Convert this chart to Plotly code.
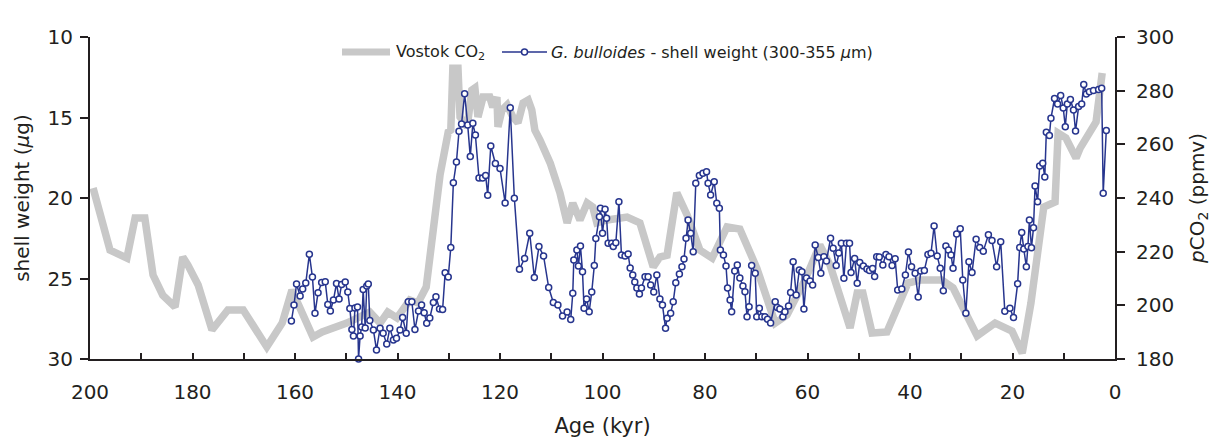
import plotly.graph_objects as go

# ---------------- data ----------------
# Vostok CO2 record (age in kyr BP, pCO2 in ppmv)
vostok_age = [199.4, 196.1, 192.8, 191.2, 189.3, 187.7, 185.8, 183.4, 181.9, 180.9,
              178.9, 176.2, 173.1, 170.1, 165.5, 162.5, 160.6, 156.5, 154.7, 149.9,
              145.4, 143.4, 141.9, 140.1, 137.6, 136.0, 134.4, 133.3, 131.7, 130.1,
              129.6, 129.2, 128.2, 127.8, 126.4, 125.5, 124.9, 124.3, 123.3, 122.0,
              121.4, 120.6, 120.4, 119.6, 118.6, 117.5, 116.5, 115.5, 114.5, 113.8,
              113.2, 112.2, 110.2, 108.3, 106.9, 105.8, 104.4, 103.0, 101.9, 101.1,
              99.1, 95.2, 92.7, 90.1, 88.8, 87.4, 85.5, 83.5, 81.0, 78.6,
              75.7, 73.2, 69.9, 66.3, 64.0, 60.5, 57.6, 55.6, 53.7, 51.7,
              50.3, 49.2, 47.4, 44.5, 40.4, 38.0, 33.8, 31.6, 26.9, 23.4,
              20.1, 18.1, 16.4, 13.9, 11.7, 11.1, 9.6, 7.6, 6.8, 3.7,
              2.5]
vostok_co2 = [243.7, 220.6, 217.6, 232.5, 232.5, 211.3, 203.8, 199.4, 218.0, 215.0,
              207.6, 190.8, 198.3, 198.3, 184.5, 193.4, 205.7, 188.2, 190.1, 193.4,
              197.5, 193.4, 197.5, 195.3, 202.0, 200.9, 206.8, 224.3, 248.6, 264.6,
              265.3, 288.4, 288.4, 270.2, 266.5, 280.2, 281.0, 270.2, 277.6, 277.6,
              273.9, 277.6, 266.5, 272.8, 274.7, 270.2, 268.0, 275.4, 276.5, 272.8,
              265.3, 261.6, 253.0, 241.9, 230.7, 238.1, 231.8, 238.1, 236.6, 230.7,
              231.8, 232.9, 230.7, 214.3, 218.0, 218.7, 241.9, 233.7, 220.6, 217.6,
              229.2, 228.4, 213.9, 193.4, 196.4, 209.4, 222.5, 215.0, 204.6, 191.6,
              204.6, 204.6, 189.7, 190.1, 208.3, 209.4, 209.4, 206.5, 188.6, 193.4,
              190.4, 182.2, 200.9, 236.6, 238.5, 264.2, 262.4, 254.9, 258.6, 268.3,
              286.6]

# G. bulloides shell weight (age in kyr BP, weight in micrograms)
shell_age = [160.7, 160.2, 159.7, 159.0, 158.5, 157.9, 157.2, 156.6, 156.1, 155.5,
             154.8, 154.1, 153.6, 153.1, 152.5, 151.9, 151.4, 150.9, 150.2, 149.7,
             149.3, 148.9, 148.6, 148.3, 147.8, 147.6, 147.3, 147.0, 146.7, 146.3,
             146.0, 145.7, 145.4, 144.7, 144.1, 143.4, 142.8, 142.1, 141.5, 140.8,
             140.2, 139.5, 139.0, 138.3, 137.9, 137.2, 136.6, 135.9, 135.3, 134.8,
             134.3, 133.7, 133.0, 132.5, 131.8, 131.2, 130.7, 130.1, 129.6, 129.1,
             128.5, 128.0, 127.5, 126.9, 126.3, 125.8, 125.3, 124.8, 124.1, 123.4,
             122.8, 122.4, 121.8, 120.9, 120.0, 119.0, 118.0, 117.2, 116.2, 115.2,
             114.2, 113.3, 112.4, 111.5, 110.5, 109.6, 108.7, 107.8, 106.9, 106.2,
             105.8, 105.6, 105.0, 104.7, 104.3, 103.9, 103.6, 103.1, 102.6, 102.1,
             101.6, 101.3, 100.6, 100.4, 100.0, 99.5, 99.2, 98.9, 98.2, 97.9,
             97.4, 96.8, 96.3, 95.6, 95.0, 94.6, 94.1, 93.7, 93.3, 92.8,
             92.4, 91.7, 91.1, 90.6, 90.0, 89.4, 88.8, 88.3, 87.7, 87.4,
             86.7, 86.2, 85.7, 85.0, 84.5, 84.1, 83.7, 83.3, 82.8, 82.3,
             81.8, 81.1, 80.4, 79.7, 79.4, 78.9, 78.2, 77.7, 77.2, 77.0,
             76.4, 75.9, 75.6, 75.1, 74.8, 74.2, 73.7, 73.2, 72.6, 72.2,
             71.8, 71.4, 70.9, 70.2, 69.9, 69.4, 68.9, 68.3, 67.8, 67.2,
             66.3, 65.9, 65.4, 64.8, 64.4, 63.7, 63.3, 62.8, 62.2, 61.6,
             61.1, 60.7, 60.2, 59.5, 59.0, 58.5, 57.9, 57.4, 56.8, 56.3,
             55.5, 55.0, 54.4, 53.9, 53.4, 52.9, 52.4, 51.8, 51.5, 50.8,
             50.3, 49.8, 49.1, 48.4, 47.9, 47.3, 46.9, 46.5, 46.0, 45.3,
             44.7, 44.1, 43.5, 42.9, 42.4, 41.6, 40.9, 40.3, 39.7, 39.0,
             38.4, 37.9, 37.2, 36.5, 35.9, 35.3, 34.7, 34.1, 33.5, 33.0,
             32.5, 32.0, 31.6, 30.9, 30.2, 29.7, 29.1, 28.5, 27.9, 27.1,
             26.4, 25.7, 24.7, 24.0, 23.1, 22.3, 21.5, 20.5, 19.8, 19.0,
             18.6, 18.2, 17.8, 17.3, 17.0, 16.7, 16.3, 15.9, 15.6, 15.1,
             14.7, 14.1, 13.7, 13.4, 12.8, 12.5, 11.8, 11.2, 10.6, 10.1,
             9.7, 9.3, 8.7, 8.1, 7.7, 7.1, 6.5, 6.1, 5.6, 5.0,
             4.2, 3.2, 2.6, 2.3, 1.7]
shell_weight = [27.64, 26.65, 25.34, 26.09, 25.65, 25.28, 23.50, 24.91, 27.16, 25.88,
                25.25, 25.20, 26.61, 27.02, 26.34, 25.31, 26.27, 25.37, 25.22, 25.84,
                26.86, 28.17, 28.57, 26.83, 26.77, 30.00, 28.57, 28.01, 25.68, 28.07,
                25.47, 25.34, 27.61, 28.20, 29.44, 28.09, 28.40, 29.07, 28.09, 28.82,
                28.71, 28.20, 27.42, 28.40, 26.44, 26.44, 28.17, 27.02, 26.65, 27.12,
                27.78, 27.45, 26.49, 26.13, 26.89, 26.93, 24.64, 24.91, 23.07, 19.05,
                17.76, 15.85, 15.40, 13.53, 15.47, 17.43, 15.36, 16.09, 18.76, 18.76,
                18.60, 19.83, 16.77, 17.86, 18.16, 20.31, 14.39, 20.01, 24.43, 23.75,
                22.19, 24.94, 23.02, 23.60, 25.56, 26.49, 26.65, 27.33, 27.08, 27.55,
                25.92, 23.85, 23.23, 24.22, 22.98, 24.58, 26.85, 26.27, 27.06, 25.84,
                24.20, 22.52, 21.16, 20.64, 22.19, 20.70, 21.26, 22.81, 22.81, 23.02,
                22.78, 20.23, 23.54, 23.60, 23.48, 24.35, 24.78, 25.22, 25.59, 25.96,
                25.59, 24.89, 24.89, 25.40, 25.84, 24.78, 26.27, 26.65, 28.09, 27.47,
                27.16, 26.44, 25.26, 24.72, 24.27, 23.79, 22.50, 21.37, 22.19, 23.34,
                19.09, 18.60, 18.47, 18.37, 19.09, 19.81, 18.99, 20.33, 20.64, 23.23,
                23.54, 24.22, 25.59, 26.34, 27.06, 24.53, 24.16, 24.97, 25.47, 25.82,
                27.37, 26.75, 24.19, 24.68, 27.37, 26.85, 27.37, 27.37, 27.53, 27.76,
                26.44, 26.80, 26.89, 27.37, 27.06, 26.71, 25.87, 23.96, 26.02, 24.47,
                24.58, 26.89, 24.97, 25.16, 25.40, 22.92, 23.70, 24.68, 23.65, 23.91,
                22.50, 23.12, 24.19, 23.42, 22.81, 24.99, 22.81, 22.81, 24.63, 23.75,
                25.30, 24.01, 24.22, 24.41, 24.50, 24.38, 24.88, 23.65, 23.66, 24.16,
                23.51, 23.65, 24.19, 23.78, 25.71, 25.65, 24.78, 23.35, 24.27, 24.68,
                26.15, 24.53, 24.50, 23.51, 23.43, 21.74, 23.60, 24.37, 25.76, 22.98,
                23.23, 23.54, 24.37, 22.24, 21.91, 25.09, 27.16, 23.96, 24.63, 22.56,
                23.07, 23.30, 22.28, 22.64, 24.27, 22.71, 27.04, 26.85, 27.42, 25.32,
                23.07, 22.14, 23.17, 24.27, 23.02, 21.37, 23.09, 21.85, 19.25, 20.23,
                18.01, 17.84, 18.70, 15.91, 16.12, 15.05, 13.82, 14.16, 13.63, 14.41,
                15.57, 14.16, 13.88, 14.53, 15.84, 14.32, 14.16, 12.95, 13.54, 13.40,
                13.32, 13.26, 13.19, 19.71, 15.81]

weight_ticks = [10, 15, 20, 25, 30]
co2_ticks = [180, 200, 220, 240, 260, 280, 300]

# ---------------- style ----------------
FONT = "DejaVu Sans"
TEXT = "#231f20"
GREY = "#c8c8c8"
BLUE = "#27358e"

fig = go.Figure()

fig.add_trace(go.Scatter(
    x=vostok_age, y=vostok_co2, yaxis="y", mode="lines",
    name="Vostok CO<sub>2</sub>",
    line=dict(color=GREY, width=7.5), showlegend=False, hoverinfo="skip"))

fig.add_trace(go.Scatter(
    x=shell_age, y=shell_weight, yaxis="y2", mode="lines+markers",
    name="G. bulloides - shell weight (300-355 μm)",
    line=dict(color=BLUE, width=1.5),
    marker=dict(symbol="circle", size=6, color="white",
                line=dict(color=BLUE, width=1.5)),
    cliponaxis=False, showlegend=False))

axis_common = dict(showgrid=False, zeroline=False, showline=True, automargin=False,
                   linewidth=2, linecolor=TEXT, tickcolor=TEXT, tickwidth=2,
                   tickfont=dict(family=FONT, size=20, color=TEXT))

fig.update_layout(
    width=1211, height=438,
    margin=dict(l=90, r=96, t=37, b=79, pad=0, autoexpand=False),
    paper_bgcolor="white", plot_bgcolor="white",
    font=dict(family=FONT, size=20, color=TEXT),
    xaxis=dict(range=[200, 0], tickmode="linear", tick0=0, dtick=20,
               ticks="inside", ticklen=6,
               minor=dict(dtick=10, tick0=0, ticks="inside", ticklen=6,
                          tickwidth=2, tickcolor=TEXT, showgrid=False),
               ticklabelstandoff=14,
               title=dict(text="Age (kyr)", font=dict(family=FONT, size=21, color=TEXT),
                          standoff=15),
               **axis_common),
    yaxis=dict(range=[180, 300], tickmode="array", tickvals=co2_ticks,
               side="right", ticks="outside", ticklen=8,
               ticklabelstandoff=7,
               title=dict(text="<i>p</i>CO<sub>2</sub> (ppmv)",
                          font=dict(family=FONT, size=20, color=TEXT), standoff=17),
               **axis_common),
    yaxis2=dict(range=[30, 10], tickmode="array", tickvals=weight_ticks,
                overlaying="y", side="left", ticks="outside", ticklen=8,
                ticklabelstandoff=3,
                title=dict(text="shell weight (<i>μ</i>g)",
                           font=dict(family=FONT, size=20, color=TEXT), standoff=13),
                **axis_common),
)

# ---------------- legend (drawn manually at the top) ----------------
def px_x(p):
    return (p - 90) / 1025.0

def px_y(p):
    return (359 - p) / 322.0

leg_y = px_y(52)
fig.add_shape(type="line", xref="paper", yref="paper",
              x0=px_x(342), x1=px_x(390), y0=leg_y, y1=leg_y,
              line=dict(color=GREY, width=7))
fig.add_annotation(xref="paper", yref="paper", x=px_x(394), y=leg_y,
                   xanchor="left", yanchor="middle", showarrow=False,
                   text="Vostok CO<sub>2</sub>",
                   font=dict(family=FONT, size=16, color=TEXT))
fig.add_shape(type="line", xref="paper", yref="paper",
              x0=px_x(502), x1=px_x(547), y0=leg_y, y1=leg_y,
              line=dict(color=BLUE, width=1.5))
fig.add_shape(type="circle", xref="paper", yref="paper",
              xsizemode="pixel", ysizemode="pixel",
              xanchor=px_x(524.5), yanchor=leg_y,
              x0=-3, x1=3, y0=-3, y1=3,
              fillcolor="white", line=dict(color=BLUE, width=1.5))
fig.add_annotation(xref="paper", yref="paper", x=px_x(549), y=leg_y,
                   xanchor="left", yanchor="middle", showarrow=False,
                   text="<i>G. bulloides</i> - shell weight (300-355 <i>μ</i>m)",
                   font=dict(family=FONT, size=16, color=TEXT))

fig.write_html("out.html",
               config={"displayModeBar": False},
               post_script="document.body.style.margin='0';document.body.style.overflow='hidden';")
